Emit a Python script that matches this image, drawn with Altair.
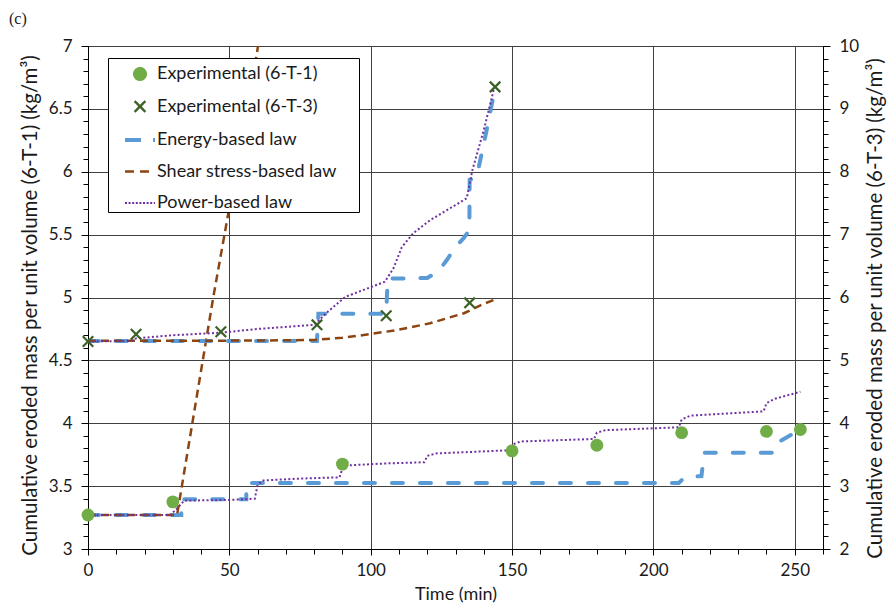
import altair as alt
import pandas as pd

# ---------------- data ----------------
series_names = ["Experimental (6-T-1)", "Experimental (6-T-3)", "Energy-based law",
                "Shear stress-based law", "Power-based law"]
series_colors = ["#70AD47", "#3B6127", "#5B9BD5", "#8C4411", "#7030A0"]

# 6-T-1 (left axis)
exp1_t = [0, 30, 90, 150, 180, 210, 240, 252]
exp1_v = [3.27, 3.375, 3.675, 3.78, 3.825, 3.925, 3.935, 3.95]

energy1_t = [0, 33, 33, 56, 56, 209, 211, 217, 218, 243, 245, 252]
energy1_v = [3.27, 3.27, 3.395, 3.395, 3.525, 3.525, 3.57, 3.58, 3.766, 3.766, 3.86, 3.95]

shear1_t = [0, 31.5, 44.3, 49, 59.8, 61.5]
shear1_v = [3.27, 3.27, 5.0, 5.59, 6.95, 7.2]

power1_t = [0, 29, 31, 34, 50, 59, 60, 62, 75, 89, 90, 92, 105, 119, 120, 123, 149, 150,
            153, 179, 180, 183, 209, 210, 213, 239, 240, 243, 252]
power1_v = [3.27, 3.27, 3.31, 3.385, 3.39, 3.40, 3.51, 3.545, 3.56, 3.57, 3.64, 3.665, 3.68,
            3.69, 3.74, 3.76, 3.785, 3.83, 3.855, 3.875, 3.925, 3.945, 3.968, 4.03, 4.06,
            4.095, 4.16, 4.195, 4.25]

# 6-T-3 (right axis)
exp3_t = [0, 17, 47, 81, 105.5, 135, 144]
exp3_v = [5.30, 5.415, 5.455, 5.565, 5.71, 5.915, 9.35]

energy3_t = [0, 81, 81.5, 105.5, 106, 120, 124, 127, 130, 133, 134.9, 135, 137.5, 141, 144]
energy3_v = [5.31, 5.31, 5.74, 5.74, 6.30, 6.31, 6.42, 6.60, 6.80, 6.95, 7.07, 7.87, 7.92,
             8.66, 9.33]

shear3_t = [0, 60, 80, 90, 97, 109, 121, 133, 139, 144]
shear3_v = [5.31, 5.315, 5.325, 5.36, 5.40, 5.48, 5.59, 5.75, 5.88, 5.97]

power3_t = [0, 15, 17, 30, 47, 60, 80, 82, 85, 91, 105, 108, 111, 115, 121, 127, 134, 136,
            140, 143.5]
power3_v = [5.30, 5.31, 5.35, 5.40, 5.44, 5.50, 5.565, 5.65, 5.78, 6.01, 6.25, 6.46, 6.80,
            7.02, 7.23, 7.39, 7.58, 8.03, 8.66, 9.30]

x_major_ticks = [0, 50, 100, 150, 200, 250]
x_minor_ticks = list(range(0, 261, 10))
yl_major_ticks = [3, 3.5, 4, 4.5, 5, 5.5, 6, 6.5, 7]
yl_minor_ticks = [round(3 + 0.1 * k, 2) for k in range(41)]
yr_major_ticks = [2, 3, 4, 5, 6, 7, 8, 9, 10]
yr_minor_ticks = [round(2 + 0.2 * k, 2) for k in range(41)]

# ---------------- helpers ----------------
FONT = "Lato"
TXT = "#1a1a1a"
GRID = "#404040"

def frame(t, v, name):
    return pd.DataFrame({"t": t, "v": v, "i": list(range(len(t))), "series": name})

xs = alt.Scale(domain=[0, 260], nice=False, zero=False)
yl = alt.Scale(domain=[3, 7], nice=False, zero=False)
yr = alt.Scale(domain=[2, 10], nice=False, zero=False)

x_major = alt.Axis(orient="bottom", values=x_major_ticks, grid=True, gridColor=GRID,
                   gridWidth=1, tickSize=6, tickColor="black", domainColor="black",
                   domainWidth=1, format="d", labelFont=FONT, labelFontSize=17,
                   labelColor=TXT, labelPadding=7, labelFlush=False, title="Time (min)",
                   titleFont=FONT, titleFontSize=18, titleFontWeight="normal",
                   titleColor=TXT, titlePadding=7)
x_minor = alt.Axis(orient="bottom", values=x_minor_ticks, grid=False, domain=False,
                   labels=False, tickSize=5, tickColor="black", title=None)
yl_major = alt.Axis(orient="left", values=yl_major_ticks, grid=True, gridColor=GRID,
                    gridWidth=1, tickSize=7, tickColor="black", domainColor="black",
                    domainWidth=1, format=".1~f", labelFont=FONT, labelFontSize=17,
                    labelColor=TXT, labelPadding=9, labelFlush=False,
                    title="Cumulative eroded mass per unit volume (6-T-1) (kg/m³)",
                    titleFont=FONT, titleFontSize=20.5, titleFontWeight="normal",
                    titleColor=TXT, titlePadding=8, titleY=259)
yl_minor = alt.Axis(orient="left", values=yl_minor_ticks, grid=False, domain=False,
                    labels=False, tickSize=5, tickColor="black", title=None)
yr_major = alt.Axis(orient="right", values=yr_major_ticks, grid=False, tickSize=7,
                    tickColor="black", domainColor="black", domainWidth=1, format="d",
                    labelFont=FONT, labelFontSize=17, labelColor=TXT, labelPadding=9,
                    labelFlush=False,
                    title="Cumulative eroded mass per unit volume (6-T-3) (kg/m³)",
                    titleFont=FONT, titleFontSize=20.5, titleFontWeight="normal",
                    titleColor=TXT, titlePadding=7, titleAngle=270, titleBaseline="top",
                    titleY=262)
yr_minor = alt.Axis(orient="right", values=yr_minor_ticks, grid=False, domain=False,
                    labels=False, tickSize=5, tickColor="black", title=None)


def line_layer(df, yscale, color, width, dash, xaxis=None, yaxis=None, cap="butt"):
    return alt.Chart(df).mark_line(color=color, strokeWidth=width, strokeDash=dash,
                                   strokeCap=cap, clip=True).encode(
        x=alt.X("t:Q", scale=xs, axis=xaxis),
        y=alt.Y("v:Q", scale=yscale, axis=yaxis),
        order=alt.Order("i:Q"),
    )


X_PATH = "M-1,-1L1,1M1,-1L-1,1"

# lines
e1 = line_layer(frame(energy1_t, energy1_v, series_names[2]), yl, series_colors[2], 4,
                [11, 17], xaxis=x_minor, yaxis=yl_minor, cap="round")
s1 = line_layer(frame(shear1_t, shear1_v, series_names[3]), yl, series_colors[3], 2.5, [8, 5])
p1 = line_layer(frame(power1_t, power1_v, series_names[4]), yl, series_colors[4], 2, [2, 2.3])
e3 = line_layer(frame(energy3_t, energy3_v, series_names[2]), yr, series_colors[2], 4,
                [11, 17], yaxis=yr_minor, cap="round")
s3 = line_layer(frame(shear3_t, shear3_v, series_names[3]), yr, series_colors[3], 2.5, [8, 5])
p3 = line_layer(frame(power3_t, power3_v, series_names[4]), yr, series_colors[4], 2, [2, 2.3])

# points
pts1 = alt.Chart(frame(exp1_t, exp1_v, series_names[0])).mark_point(
    filled=True, shape="circle", size=165, color=series_colors[0], opacity=1).encode(
    x=alt.X("t:Q", scale=xs, axis=x_major),
    y=alt.Y("v:Q", scale=yl, axis=yl_major),
)
pts3 = alt.Chart(frame(exp3_t, exp3_v, series_names[1])).mark_point(
    filled=False, shape=X_PATH, size=110, color=series_colors[1], strokeWidth=2.2,
    opacity=1).encode(
    x=alt.X("t:Q", scale=xs, axis=None),
    y=alt.Y("v:Q", scale=yr, axis=yr_major),
)

# legend (drawn by Vega-Lite's own legend from the series names)
CIRCLE_PATH = "M0.4,0A0.4,0.4 0 1,1 -0.4,0A0.4,0.4 0 1,1 0.4,0Z"
X_SMALL = "M-0.36,-0.36L0.36,0.36M0.36,-0.36L-0.36,0.36"
LINE_PATH = "M-1,0L1,0"
legend_shapes = [CIRCLE_PATH, X_SMALL, LINE_PATH, LINE_PATH, LINE_PATH]
legend_dashes = [[1, 0], [1, 0], [16, 12], [9, 6], [2, 1.6]]
legend_widths = [2, 2.4, 4, 2.5, 2]

leg = alt.Legend(title=None, orient="none", legendX=20, legendY=12, fillColor="white",
                 strokeColor="black", padding=0, symbolSize=900,
                 symbolOffset=15, labelOffset=0, rowPadding=6, labelFont=FONT,
                 labelFontSize=18, labelColor=TXT, labelLimit=360,
                 labelExpr="datum.label + '\u00a0\u00a0\u2800'")
legend_df = pd.DataFrame({"series": series_names, "t": [None] * 5, "v": [None] * 5})
legend_layer = alt.Chart(legend_df).mark_point(filled=True, opacity=1).encode(
    x=alt.X("t:Q", scale=xs, axis=None),
    y=alt.Y("v:Q", scale=yl, axis=None),
    color=alt.Color("series:N", scale=alt.Scale(domain=series_names, range=series_colors),
                    legend=leg),
    stroke=alt.Stroke("series:N", scale=alt.Scale(domain=series_names, range=series_colors),
                      legend=leg),
    shape=alt.Shape("series:N", scale=alt.Scale(domain=series_names, range=legend_shapes),
                    legend=leg),
    strokeDash=alt.StrokeDash("series:N",
                              scale=alt.Scale(domain=series_names, range=legend_dashes),
                              legend=leg),
    strokeWidth=alt.StrokeWidth("series:N",
                                scale=alt.Scale(type="ordinal", domain=series_names,
                                                range=legend_widths),
                                legend=leg),
)

panel_label = alt.Chart(pd.DataFrame({"label": ["(c)"]})).mark_text(
    font="Liberation Serif", fontSize=16, color=TXT, align="left", baseline="middle").encode(
    text="label:N", x=alt.value(-79), y=alt.value(-27))

chart = alt.layer(e1, s1, p1, e3, s3, p3, pts1, pts3, legend_layer, panel_label).resolve_scale(
    y="independent").resolve_axis(x="independent", y="independent").properties(
    width=735, height=503, autosize="none",
    padding={"left": 80, "top": 38, "right": 65, "bottom": 54},
).configure_view(stroke=None).configure(background="white")

chart.save("out.html", embed_options={"renderer": "svg", "actions": False})
